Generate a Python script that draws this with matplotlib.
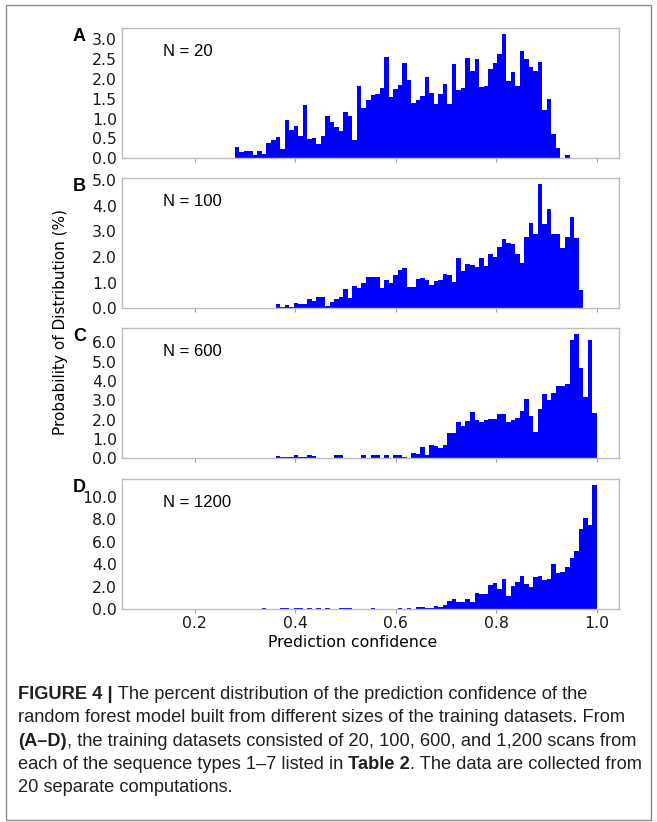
import matplotlib
matplotlib.use('Agg')
import matplotlib.pyplot as plt
import numpy as np
from matplotlib.patches import Rectangle
from matplotlib.ticker import FormatStrFormatter

# 100 bins of prediction confidence between 0.1 and 1.0
bin_edges = np.linspace(0.1, 1.0, 101)

panel_letters = ['A', 'B', 'C', 'D']
sample_sizes = [20, 100, 600, 1200]
first_bin = [20, 26, 23, 26]

pct_a = [0.28, 0.15, 0.18, 0.18, 0.08, 0.18, 0.11, 0.39, 0.45, 0.54,
         0.24, 0.97, 0.71, 0.82, 0.57, 1.34, 0.49, 0.51, 0.37, 0.57,
         1.06, 0.91, 0.79, 0.69, 1.17, 1.07, 0.47, 1.81, 1.28, 1.48,
         1.59, 1.61, 1.76, 2.55, 1.55, 1.74, 1.85, 2.39, 1.97, 1.39,
         1.46, 1.56, 2.06, 1.64, 1.38, 1.63, 1.87, 1.38, 2.37, 1.72,
         1.77, 2.52, 2.2, 2.51, 1.79, 1.82, 2.24, 2.39, 2.63, 3.12,
         1.95, 2.17, 1.81, 2.71, 2.5, 2.31, 2.21, 2.42, 1.22, 1.5,
         0.6, 0.25, 0.0, 0.09]
pct_b = [0.03, 0.0, 0.03, 0.17, 0.06, 0.12, 0.04, 0.2, 0.17, 0.17,
         0.36, 0.3, 0.43, 0.43, 0.08, 0.26, 0.35, 0.43, 0.77, 0.42,
         0.87, 0.8, 0.97, 1.23, 1.21, 1.21, 0.78, 1.1, 0.97, 1.31,
         1.49, 1.57, 0.84, 0.82, 1.13, 1.19, 1.09, 0.91, 1.06, 1.09,
         1.34, 1.31, 1.04, 1.95, 1.47, 1.71, 1.69, 1.62, 1.97, 1.64,
         2.12, 1.99, 2.4, 2.71, 2.53, 2.51, 2.12, 1.75, 2.79, 3.32,
         2.9, 4.83, 3.29, 3.87, 2.88, 2.88, 2.35, 2.79, 3.55, 2.73,
         0.71, 0.03]
pct_c = [0.04, 0, 0, 0.04, 0, 0, 0.1, 0.07, 0.06, 0.07,
         0.15, 0.09, 0.09, 0.15, 0.1, 0.0, 0.02, 0.02, 0.0, 0.19,
         0.19, 0.0, 0.02, 0.02, 0.0, 0.17, 0.02, 0.17, 0.17, 0.02,
         0.17, 0.03, 0.17, 0.17, 0.05, 0.02, 0.28, 0.24, 0.59, 0.16,
         0.67, 0.64, 0.54, 0.67, 1.3, 1.33, 1.87, 1.66, 1.95, 2.39,
         1.97, 1.9, 2.0, 2.04, 2.02, 2.3, 2.3, 1.87, 1.97, 2.08,
         2.46, 3.05, 2.2, 1.35, 2.56, 3.3, 3.03, 3.36, 3.74, 3.74,
         3.84, 6.09, 6.4, 4.65, 3.18, 6.09, 2.32]
pct_d = [0.08, 0, 0, 0, 0.08, 0.1, 0, 0.08, 0.1, 0,
         0.1, 0, 0.08, 0, 0.08, 0, 0, 0.06, 0.06, 0.06,
         0, 0, 0, 0, 0.05, 0, 0, 0, 0, 0,
         0.05, 0, 0.05, 0, 0.15, 0.15, 0.1, 0.05, 0.27, 0.2,
         0.39, 0.68, 0.86, 0.65, 0.6, 0.86, 0.62, 1.39, 1.34, 1.37,
         2.1, 2.28, 1.81, 2.7, 1.19, 2.08, 2.37, 2.97, 2.26, 1.93,
         2.82, 2.94, 2.58, 2.67, 4.04, 3.18, 3.32, 3.77, 4.51, 5.13,
         7.15, 8.13, 7.45, 11.04]
all_pct = [pct_a, pct_b, pct_c, pct_d]

y_ticks = [[0.0, 0.5, 1.0, 1.5, 2.0, 2.5, 3.0],
           [0, 1, 2, 3, 4, 5],
           [0, 1, 2, 3, 4, 5, 6],
           [0, 2, 4, 6, 8, 10]]
x_ticks = [0.2, 0.4, 0.6, 0.8, 1.0]

caption = [
    [("FIGURE 4 |", True), (" The percent distribution of the prediction confidence of the", False)],
    [("random forest model built from different sizes of the training datasets. From", False)],
    [("(A\u2013D)", True), (", the training datasets consisted of 20, 100, 600, and 1,200 scans from", False)],
    [("each of the sequence types 1\u20137 listed in", False), (" Table 2", True),
     (". The data are collected from", False)],
    [("20 separate computations.", False)],
]

W, H = 657, 822
fig = plt.figure(figsize=(W / 100, H / 100), dpi=100)


def fx(px):
    return px / W


def fy(py):
    return 1 - py / H


ax_left, ax_right, ax_h = 121.7, 619.3, 130
ax_tops = [28.3, 178.3, 328.3, 479.0]

for i in range(4):
    top = ax_tops[i]
    ax = fig.add_axes([fx(ax_left), fy(top + ax_h), (ax_right - ax_left) / W, ax_h / H])
    heights = np.zeros(100)
    heights[first_bin[i]:first_bin[i] + len(all_pct[i])] = all_pct[i]
    ax.bar(bin_edges[:-1], heights, width=np.diff(bin_edges), align='edge',
           color='#0000ff', linewidth=0, antialiased=False)
    ax.set_xlim(0.055, 1.045)
    ax.set_xticks(x_ticks)
    ax.set_yticks(y_ticks[i])
    ax.yaxis.set_major_formatter(FormatStrFormatter('%.1f'))
    ax.xaxis.set_major_formatter(FormatStrFormatter('%.1f'))
    for s in ax.spines.values():
        s.set_color('#bdbdbd')
        s.set_linewidth(1.0)
    ax.tick_params(axis='x', direction='out', length=3, width=0.8, color='#a0a0a0',
                   labelsize=11.3, pad=2, labelcolor='#1a1a1a', labelbottom=(i == 3))
    ax.tick_params(axis='y', length=0, pad=3.5, labelsize=11.3, labelcolor='#1a1a1a')
    ax.text(0.083, 0.823, 'N = %d' % sample_sizes[i], transform=ax.transAxes,
            fontsize=12, family='Liberation Sans', va='center', ha='left')
    fig.text(fx(73), fy(top + 8), panel_letters[i], fontsize=13, fontweight='bold',
             family='Liberation Sans', va='center', ha='left')

fig.text(fx(352.5), fy(642), 'Prediction confidence', ha='center', va='center', fontsize=11.3)
fig.text(fx(61), fy(322), 'Probability of Distribution (%)', rotation=90,
         ha='center', va='center', fontsize=11)

# caption with bold pieces placed one after the other
renderer = fig.canvas.get_renderer()
baselines = [699, 722, 746, 769, 792]
for py, parts in zip(baselines, caption):
    x = fx(18)
    for txt, bold in parts:
        t = fig.text(x, fy(py), txt, fontsize=13.15, family='Liberation Sans',
                     fontweight='bold' if bold else 'normal', va='baseline', ha='left',
                     color='#231f20')
        x1 = t.get_window_extent(renderer).x1
        x = fig.transFigure.inverted().transform((x1, 0))[0]

fig.patches.append(Rectangle((fx(6), fy(820)), fx(651) - fx(6), fy(5) - fy(820),
                             transform=fig.transFigure, fill=False,
                             edgecolor='#8c8c8c', linewidth=1.0))

fig.savefig('out.png', dpi=100)
